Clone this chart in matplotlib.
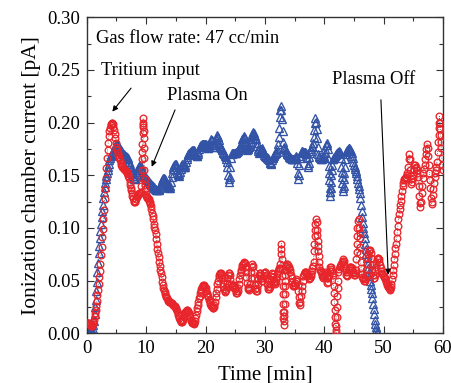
import matplotlib
matplotlib.use("Agg")
import matplotlib.pyplot as plt

# ionization chamber current [pA] every 0.1 min
# (one row per minute), red circles run 0-60 min, blue triangles 0-49 min
red_y = [
    0.010, 0.010, 0.010, 0.010, 0.009, 0.009, 0.008, 0.007, 0.007, 0.008,
    0.009, 0.011, 0.013, 0.016, 0.019, 0.022, 0.026, 0.031, 0.036, 0.041,
    0.047, 0.053, 0.059, 0.066, 0.074, 0.082, 0.091, 0.099, 0.108, 0.117,
    0.127, 0.137, 0.147, 0.157, 0.166, 0.174, 0.181, 0.187, 0.192, 0.195,
    0.198, 0.199, 0.200, 0.200, 0.199, 0.196, 0.193, 0.189, 0.185, 0.181,
    0.177, 0.174, 0.171, 0.169, 0.167, 0.166, 0.164, 0.162, 0.160, 0.159,
    0.158, 0.157, 0.156, 0.156, 0.155, 0.155, 0.154, 0.153, 0.152, 0.151,
    0.149, 0.147, 0.144, 0.141, 0.138, 0.136, 0.133, 0.130, 0.128, 0.126,
    0.125, 0.125, 0.126, 0.127, 0.129, 0.130, 0.131, 0.132, 0.133, 0.133,
    0.133, 0.134, 0.140, 0.165, 0.190, 0.204, 0.185, 0.155, 0.137, 0.132,
    0.130, 0.129, 0.128, 0.128, 0.127, 0.126, 0.125, 0.123, 0.121, 0.118,
    0.114, 0.111, 0.108, 0.104, 0.101, 0.098, 0.094, 0.089, 0.085, 0.080,
    0.076, 0.072, 0.068, 0.064, 0.060, 0.057, 0.053, 0.049, 0.046, 0.043,
    0.041, 0.039, 0.037, 0.035, 0.034, 0.033, 0.032, 0.031, 0.031, 0.030,
    0.030, 0.030, 0.029, 0.029, 0.028, 0.027, 0.027, 0.026, 0.026, 0.025,
    0.024, 0.023, 0.021, 0.019, 0.017, 0.016, 0.014, 0.013, 0.012, 0.011,
    0.011, 0.012, 0.013, 0.015, 0.017, 0.019, 0.020, 0.021, 0.022, 0.022,
    0.021, 0.020, 0.019, 0.017, 0.015, 0.013, 0.012, 0.011, 0.010, 0.010,
    0.009, 0.010, 0.012, 0.014, 0.017, 0.021, 0.024, 0.027, 0.030, 0.033,
    0.035, 0.038, 0.040, 0.042, 0.044, 0.045, 0.046, 0.046, 0.045, 0.044,
    0.043, 0.040, 0.038, 0.036, 0.035, 0.034, 0.032, 0.030, 0.028, 0.027,
    0.026, 0.025, 0.024, 0.024, 0.025, 0.027, 0.030, 0.034, 0.038, 0.042,
    0.047, 0.050, 0.053, 0.055, 0.056, 0.057, 0.057, 0.055, 0.052, 0.048,
    0.045, 0.042, 0.040, 0.039, 0.041, 0.044, 0.048, 0.052, 0.055, 0.057,
    0.057, 0.055, 0.051, 0.047, 0.045, 0.044, 0.045, 0.046, 0.046, 0.044,
    0.042, 0.040, 0.038, 0.038, 0.040, 0.043, 0.047, 0.051, 0.055, 0.058,
    0.060, 0.063, 0.065, 0.066, 0.067, 0.068, 0.067, 0.063, 0.058, 0.053,
    0.048, 0.044, 0.042, 0.041, 0.043, 0.047, 0.052, 0.058, 0.063, 0.066,
    0.064, 0.058, 0.052, 0.046, 0.042, 0.040, 0.040, 0.043, 0.047, 0.051,
    0.055, 0.057, 0.057, 0.055, 0.052, 0.050, 0.050, 0.052, 0.054, 0.057,
    0.058, 0.058, 0.055, 0.051, 0.047, 0.044, 0.042, 0.042, 0.044, 0.047,
    0.050, 0.054, 0.057, 0.056, 0.053, 0.050, 0.048, 0.047, 0.049, 0.051,
    0.053, 0.056, 0.059, 0.061, 0.062, 0.062, 0.066, 0.075, 0.085, 0.070,
    0.045, 0.020, 0.008, 0.020, 0.045, 0.060, 0.064, 0.066, 0.066, 0.065,
    0.063, 0.062, 0.060, 0.058, 0.055, 0.052, 0.049, 0.046, 0.045, 0.045,
    0.046, 0.048, 0.050, 0.051, 0.050, 0.046, 0.040, 0.034, 0.029, 0.027,
    0.030, 0.035, 0.040, 0.045, 0.050, 0.054, 0.056, 0.058, 0.058, 0.058,
    0.057, 0.056, 0.055, 0.054, 0.052, 0.051, 0.052, 0.054, 0.056, 0.059,
    0.062, 0.064, 0.068, 0.078, 0.092, 0.104, 0.108, 0.106, 0.098, 0.088,
    0.078, 0.068, 0.063, 0.060, 0.059, 0.058, 0.056, 0.054, 0.052, 0.053,
    0.055, 0.057, 0.058, 0.056, 0.052, 0.048, 0.049, 0.052, 0.055, 0.059,
    0.063, 0.063, 0.061, 0.059, 0.057, 0.055, 0.045, 0.030, 0.015, 0.003,
    0.000, 0.015, 0.035, 0.050, 0.058, 0.061, 0.063, 0.064, 0.065, 0.066,
    0.068, 0.069, 0.070, 0.069, 0.066, 0.062, 0.058, 0.055, 0.054, 0.055,
    0.058, 0.060, 0.062, 0.063, 0.063, 0.063, 0.062, 0.060, 0.058, 0.057,
    0.055, 0.055, 0.057, 0.060, 0.070, 0.085, 0.100, 0.107, 0.108, 0.100,
    0.090, 0.075, 0.062, 0.056, 0.053, 0.052, 0.051, 0.050, 0.050, 0.051,
    0.055, 0.060, 0.066, 0.071, 0.075, 0.078, 0.079, 0.079, 0.076, 0.071,
    0.065, 0.060, 0.055, 0.052, 0.052, 0.055, 0.059, 0.063, 0.067, 0.070,
    0.071, 0.071, 0.070, 0.068, 0.065, 0.062, 0.059, 0.057, 0.056, 0.055,
    0.054, 0.053, 0.052, 0.051, 0.049, 0.048, 0.046, 0.045, 0.044, 0.043,
    0.041, 0.042, 0.044, 0.047, 0.051, 0.055, 0.060, 0.065, 0.070, 0.075,
    0.081, 0.085, 0.090, 0.096, 0.102, 0.108, 0.113, 0.118, 0.122, 0.126,
    0.130, 0.135, 0.140, 0.143, 0.145, 0.146, 0.147, 0.148, 0.148, 0.150,
    0.152, 0.158, 0.165, 0.170, 0.165, 0.155, 0.146, 0.142, 0.144, 0.147,
    0.150, 0.155, 0.160, 0.160, 0.158, 0.157, 0.155, 0.152, 0.148, 0.140,
    0.130, 0.124, 0.120, 0.125, 0.133, 0.140, 0.147, 0.152, 0.156, 0.160,
    0.165, 0.170, 0.175, 0.180, 0.176, 0.168, 0.160, 0.152, 0.145, 0.138,
    0.128, 0.123, 0.125, 0.131, 0.137, 0.143, 0.148, 0.152, 0.155, 0.158,
    0.163, 0.172, 0.182, 0.195, 0.206, 0.200, 0.188, 0.176, 0.166, 0.160,
    0.155]

blue_y = [
    0.002, 0.002, 0.002, 0.002, 0.002, 0.002, 0.002, 0.002, 0.002, 0.002,
    0.004, 0.008, 0.012, 0.018, 0.025, 0.032, 0.040, 0.049, 0.058, 0.067,
    0.076, 0.083, 0.090, 0.097, 0.104, 0.110, 0.116, 0.122, 0.128, 0.134,
    0.139, 0.143, 0.146, 0.149, 0.152, 0.155, 0.158, 0.161, 0.164, 0.166,
    0.168, 0.169, 0.170, 0.171, 0.172, 0.173, 0.175, 0.176, 0.178, 0.179,
    0.180, 0.180, 0.179, 0.178, 0.177, 0.176, 0.175, 0.174, 0.173, 0.172,
    0.171, 0.170, 0.170, 0.169, 0.168, 0.168, 0.168, 0.167, 0.167, 0.166,
    0.165, 0.163, 0.161, 0.159, 0.157, 0.155, 0.153, 0.151, 0.149, 0.147,
    0.146, 0.146, 0.147, 0.149, 0.151, 0.153, 0.155, 0.157, 0.159, 0.160,
    0.160, 0.159, 0.157, 0.155, 0.153, 0.152, 0.150, 0.149, 0.148, 0.147,
    0.146, 0.146, 0.145, 0.145, 0.144, 0.144, 0.143, 0.143, 0.142, 0.141,
    0.141, 0.140, 0.139, 0.139, 0.138, 0.137, 0.137, 0.136, 0.136, 0.136,
    0.136, 0.136, 0.137, 0.138, 0.140, 0.142, 0.144, 0.145, 0.146, 0.147,
    0.147, 0.146, 0.144, 0.143, 0.142, 0.141, 0.140, 0.139, 0.139, 0.138,
    0.138, 0.140, 0.144, 0.148, 0.152, 0.156, 0.158, 0.160, 0.160, 0.161,
    0.161, 0.158, 0.155, 0.152, 0.150, 0.149, 0.151, 0.153, 0.156, 0.159,
    0.161, 0.160, 0.159, 0.158, 0.158, 0.158, 0.160, 0.163, 0.165, 0.167,
    0.169, 0.170, 0.171, 0.171, 0.172, 0.172, 0.173, 0.173, 0.174, 0.174,
    0.174, 0.173, 0.171, 0.170, 0.169, 0.168, 0.168, 0.170, 0.172, 0.175,
    0.177, 0.178, 0.179, 0.179, 0.180, 0.180, 0.180, 0.180, 0.180, 0.180,
    0.180, 0.179, 0.178, 0.177, 0.176, 0.176, 0.177, 0.179, 0.181, 0.183,
    0.184, 0.183, 0.181, 0.179, 0.177, 0.177, 0.179, 0.181, 0.184, 0.186,
    0.188, 0.186, 0.183, 0.180, 0.178, 0.177, 0.176, 0.175, 0.174, 0.172,
    0.171, 0.170, 0.169, 0.168, 0.167, 0.165, 0.163, 0.158, 0.150, 0.146,
    0.144, 0.148, 0.158, 0.166, 0.170, 0.171, 0.171, 0.171, 0.171, 0.171,
    0.171, 0.171, 0.172, 0.172, 0.173, 0.174, 0.175, 0.176, 0.177, 0.178,
    0.180, 0.182, 0.184, 0.185, 0.186, 0.187, 0.185, 0.182, 0.179, 0.176,
    0.174, 0.175, 0.176, 0.177, 0.178, 0.180, 0.182, 0.184, 0.187, 0.189,
    0.191, 0.190, 0.188, 0.187, 0.185, 0.184, 0.181, 0.178, 0.175, 0.173,
    0.171, 0.172, 0.173, 0.174, 0.175, 0.176, 0.175, 0.173, 0.171, 0.169,
    0.168, 0.168, 0.167, 0.167, 0.166, 0.166, 0.165, 0.164, 0.163, 0.162,
    0.161, 0.162, 0.164, 0.166, 0.167, 0.168, 0.169, 0.170, 0.171, 0.171,
    0.172, 0.175, 0.180, 0.186, 0.195, 0.205, 0.212, 0.216, 0.212, 0.203,
    0.192, 0.182, 0.177, 0.176, 0.175, 0.174, 0.172, 0.171, 0.170, 0.169,
    0.168, 0.167, 0.167, 0.166, 0.166, 0.165, 0.165, 0.165, 0.165, 0.165,
    0.166, 0.166, 0.167, 0.168, 0.162, 0.152, 0.146, 0.150, 0.160, 0.166,
    0.168, 0.171, 0.173, 0.173, 0.172, 0.172, 0.172, 0.172, 0.172, 0.171,
    0.170, 0.166, 0.160, 0.158, 0.162, 0.167, 0.171, 0.173, 0.175, 0.177,
    0.178, 0.181, 0.186, 0.193, 0.200, 0.204, 0.201, 0.194, 0.185, 0.177,
    0.170, 0.168, 0.167, 0.166, 0.165, 0.165, 0.165, 0.166, 0.166, 0.167,
    0.168, 0.171, 0.175, 0.179, 0.181, 0.179, 0.175, 0.166, 0.152, 0.138,
    0.130, 0.138, 0.150, 0.160, 0.165, 0.165, 0.166, 0.167, 0.168, 0.169,
    0.170, 0.171, 0.171, 0.172, 0.172, 0.173, 0.172, 0.170, 0.166, 0.158,
    0.148, 0.138, 0.135, 0.140, 0.152, 0.165, 0.170, 0.172, 0.173, 0.174,
    0.175, 0.176, 0.176, 0.175, 0.174, 0.173, 0.171, 0.168, 0.166, 0.163,
    0.160, 0.158, 0.156, 0.154, 0.152, 0.149, 0.146, 0.143, 0.140, 0.137,
    0.133, 0.128, 0.122, 0.116, 0.110, 0.105, 0.100, 0.095, 0.090, 0.085,
    0.080, 0.075, 0.071, 0.067, 0.062, 0.058, 0.054, 0.050, 0.046, 0.042,
    0.038, 0.033, 0.028, 0.023, 0.018, 0.013, 0.009, 0.006, 0.003, 0.001,
    0.000]

red_t = [i / 10 for i in range(len(red_y))]
blue_t = [i / 10 for i in range(len(blue_y))]

# extra points in the narrow spikes, where the markers stack into columns
red_spike_t = [9.23, 9.26, 9.33, 9.36, 9.43, 9.46, 9.53, 9.56, 9.63, 9.66, 9.73, 9.76,
               32.75, 32.93, 32.96, 33.03, 33.06, 33.13, 33.23, 33.27, 33.33, 33.36, 33.43, 33.46,
               38.35, 38.45, 38.85, 38.95, 39.05,
               41.65, 41.75, 41.85, 42.05, 42.15, 42.25,
               45.45, 45.55, 45.95, 46.05, 46.15,
               59.25, 59.35, 59.55, 59.65]
red_spike_y = [0.147, 0.155, 0.172, 0.180, 0.196, 0.200, 0.198, 0.192, 0.176, 0.166, 0.146, 0.141,
               0.080, 0.062, 0.054, 0.037, 0.028, 0.014, 0.012, 0.016, 0.028, 0.037, 0.050, 0.055,
               0.085, 0.098, 0.093, 0.083, 0.073,
               0.038, 0.022, 0.009, 0.007, 0.025, 0.043,
               0.077, 0.092, 0.095, 0.082, 0.068,
               0.188, 0.200, 0.194, 0.182]
blue_spike_t = [40.75, 40.85, 40.95, 41.05, 41.15, 41.25, 42.95, 43.05, 43.35, 43.45]
blue_spike_y = [0.159, 0.145, 0.134, 0.134, 0.144, 0.155, 0.153, 0.143, 0.146, 0.158]

red_pts = sorted(zip(red_t + red_spike_t, red_y + red_spike_y))
blue_pts = sorted(zip(blue_t + blue_spike_t, blue_y + blue_spike_y))
red_x, red_v = [p[0] for p in red_pts], [p[1] for p in red_pts]
blue_x, blue_v = [p[0] for p in blue_pts], [p[1] for p in blue_pts]

red_color = "#e8252b"
blue_color = "#3353a6"

plt.rcParams["font.family"] = ["Liberation Serif", "DejaVu Serif"]

fig = plt.figure(figsize=(4.52, 3.83), dpi=100)
ax = fig.add_axes([0.192, 0.130, 0.788, 0.825])

ax.plot(blue_x, blue_v, linestyle="none", marker="^", markersize=5.4,
        markerfacecolor="none", markeredgecolor=blue_color, markeredgewidth=0.95)
ax.plot(red_x, red_v, linestyle=":", color="0.35", linewidth=0.6, zorder=2)
ax.plot(red_x, red_v, linestyle="none", marker="o", markersize=4.8,
        markerfacecolor="none", markeredgecolor=red_color, markeredgewidth=0.95, zorder=3)

ax.set_xlim(0, 60)
ax.set_ylim(0, 0.30)
ax.set_xticks([0, 10, 20, 30, 40, 50, 60])
ax.set_xticks([5, 15, 25, 35, 45, 55], minor=True)
ax.set_yticks([0.00, 0.05, 0.10, 0.15, 0.20, 0.25, 0.30])
ax.set_yticks([0.025, 0.075, 0.125, 0.175, 0.225, 0.275], minor=True)
ax.set_yticklabels(["0.00", "0.05", "0.10", "0.15", "0.20", "0.25", "0.30"])
ax.tick_params(which="both", direction="in", top=True, right=True, labelsize=13.5,
               width=0.8, color="0.2")
ax.tick_params(which="major", length=5, pad=5)
ax.tick_params(which="minor", length=3)
for sp in ax.spines.values():
    sp.set_linewidth(1.0)
    sp.set_color("0.2")

ax.set_xlabel("Time [min]", fontsize=15, labelpad=6)
ax.set_ylabel("Ionization chamber current [pA]", fontsize=15.5, labelpad=4)

ax.text(1.5, 0.2795, "Gas flow rate: 47 cc/min", fontsize=13.3, va="center", ha="left")

arrow = dict(arrowstyle="-|>", color="black", lw=0.8, mutation_scale=8, shrinkA=0, shrinkB=0)
ax.text(2.35, 0.249, "Tritium input", fontsize=13.3, va="center", ha="left")
ax.annotate("", xy=(4.3, 0.2104), xytext=(7.46, 0.2327), arrowprops=arrow)
ax.text(13.57, 0.2257, "Plasma On", fontsize=13.3, va="center", ha="left")
ax.annotate("", xy=(10.94, 0.158), xytext=(14.87, 0.212), arrowprops=arrow)
ax.text(41.24, 0.2405, "Plasma Off", fontsize=13.3, va="center", ha="left")
ax.annotate("", xy=(50.78, 0.0554), xytext=(49.55, 0.2216), arrowprops=arrow)

fig.savefig("out.png", dpi=100)
